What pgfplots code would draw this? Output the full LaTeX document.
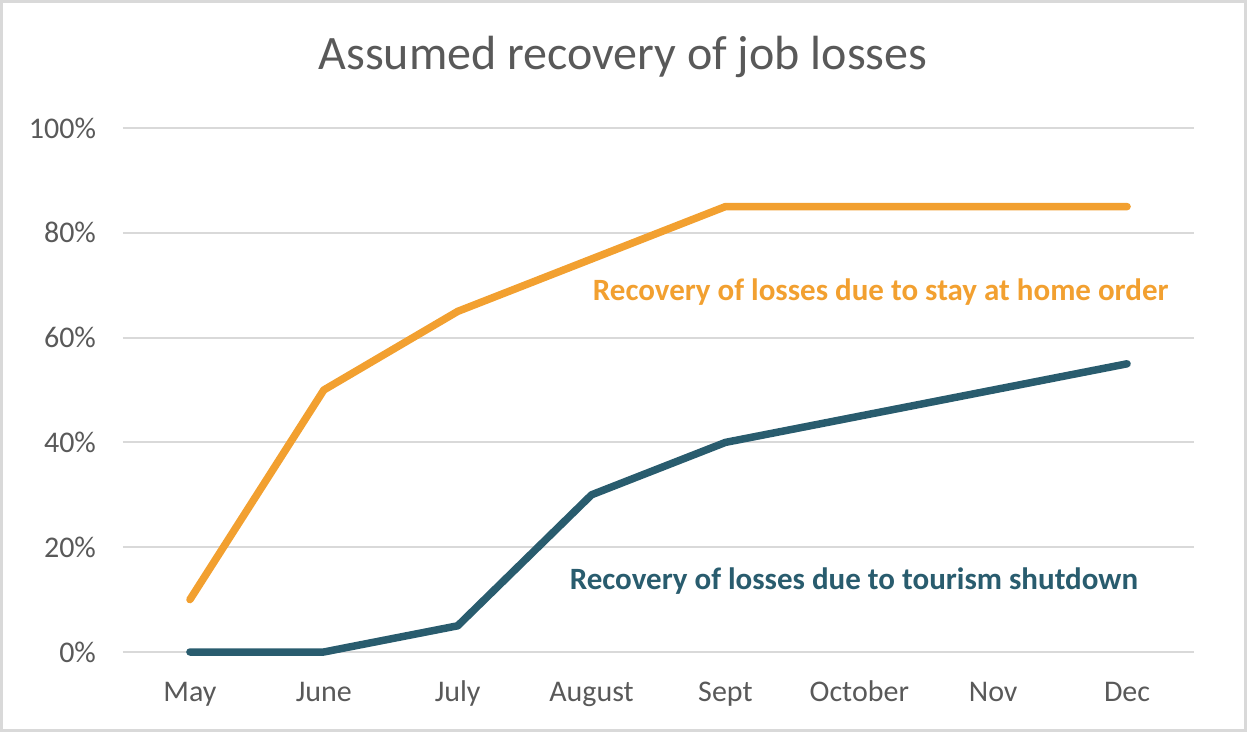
\documentclass[border=0pt]{standalone}
\usepackage{pgfplots}
\pgfplotsset{compat=1.18}
\usepackage{fontspec}
\setmainfont{Carlito}
\definecolor{orangeL}{RGB}{242,160,48}
\definecolor{tealL}{RGB}{41,92,110}
\definecolor{gridG}{RGB}{217,217,217}
\definecolor{txtG}{RGB}{89,89,89}
\begin{document}
\begin{tikzpicture}
\useasboundingbox (-61.5pt,-40.5pt) rectangle (562pt,326pt);
\draw[gridG, line width=1.5pt] (-60.5pt,-39.5pt) rectangle (561pt,325pt);
\begin{axis}[
  at={(0pt,0pt)}, anchor=south west,
  scale only axis,
  width=535.5pt, height=262pt,
  xmin=-0.5, xmax=7.5, ymin=0, ymax=100,
  axis line style={draw=none},
  xtick={0,...,7},
  xticklabels={May,June,July,August,Sept,October,Nov,Dec},
  ytick={0,20,...,100},
  yticklabel={\pgfmathprintnumber{\tick}\%},
  /pgf/number format/assume math mode=true,
  tick style={draw=none},
  ymajorgrids,
  grid style={gridG, line width=1pt},
  tick label style={font=\fontsize{15}{17}\selectfont, text=txtG},
  yticklabel style={xshift=-10pt},
  xticklabel style={anchor=base, yshift=-24.5pt},
  clip=false,
]
\addplot[orangeL, line width=3.75pt, line join=round, line cap=round] coordinates {
(0,10) (1,50) (2,65) (3,75) (4,85) (5,85) (6,85) (7,85)};
\addplot[tealL, line width=3.75pt, line join=round, line cap=round] coordinates {
(0,0) (1,0) (2,5) (3,30) (4,40) (5,45) (6,50) (7,55)};
\node[text=orangeL, font=\bfseries\fontsize{15.5}{17}\selectfont] at (axis cs:5.16,68.7) {Recovery of losses due to stay at home order};
\node[text=tealL, font=\bfseries\fontsize{15.5}{17}\selectfont] at (axis cs:4.96,13.5) {Recovery of losses due to tourism shutdown};
\end{axis}
\node[text=txtG, font=\fontsize{24}{28}\selectfont] at (250pt,297.5pt) {Assumed recovery of job losses};
\end{tikzpicture}
\end{document}
